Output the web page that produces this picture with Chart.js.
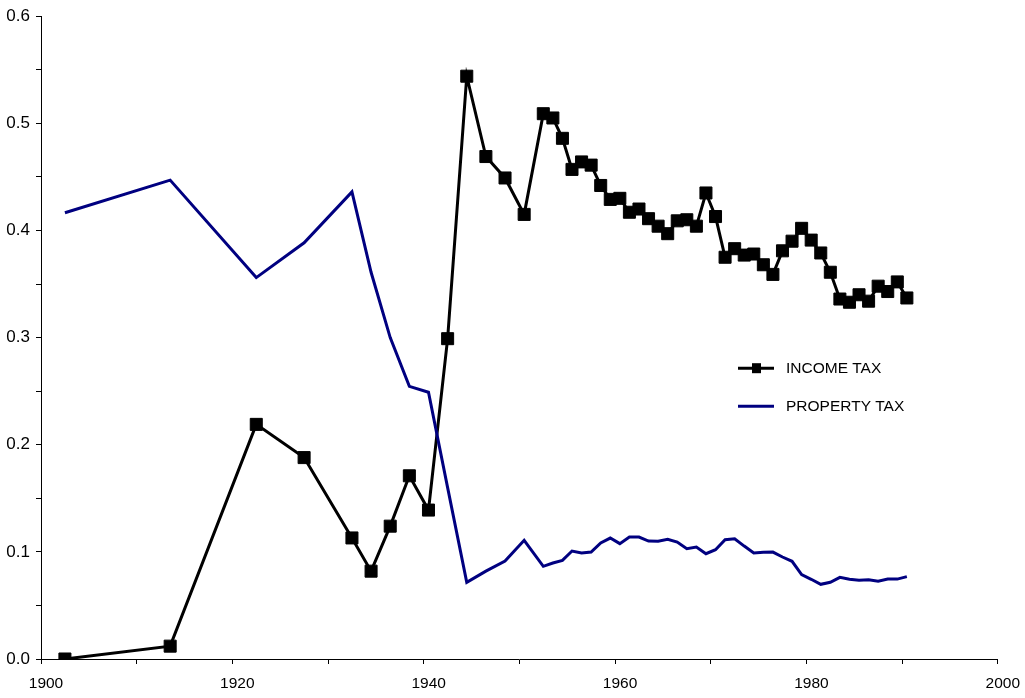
<!DOCTYPE html>
<html><head><meta charset="utf-8">
<script src="https://cdn.jsdelivr.net/npm/chart.js@4/dist/chart.umd.min.js"></script>
<style>html,body{margin:0;padding:0;background:#fff}#wrap{width:1025px;height:698px;position:relative}</style>
</head><body><div id="wrap"><canvas id="c" width="1025" height="698"></canvas></div>
<script>
const years = [1902.5, 1913.5, 1922.5, 1927.5, 1932.5, 1934.5, 1936.5, 1938.5, 1940.5, 1942.5, 1944.5, 1946.5, 1948.5, 1950.5,
  1952.5, 1953.5, 1954.5, 1955.5, 1956.5, 1957.5, 1958.5, 1959.5, 1960.5, 1961.5, 1962.5, 1963.5, 1964.5, 1965.5, 1966.5,
  1967.5, 1968.5, 1969.5, 1970.5, 1971.5, 1972.5, 1973.5, 1974.5, 1975.5, 1976.5, 1977.5, 1978.5, 1979.5, 1980.5, 1981.5,
  1982.5, 1983.5, 1984.5, 1985.5, 1986.5, 1987.5, 1988.5, 1989.5, 1990.5];
const incomeTax = [0.000, 0.012, 0.219, 0.188, 0.113, 0.082, 0.124, 0.171, 0.139, 0.299, 0.544, 0.469, 0.449, 0.415,
  0.509, 0.505, 0.486, 0.457, 0.464, 0.461, 0.442, 0.429, 0.430, 0.417, 0.420, 0.411, 0.404, 0.397, 0.409,
  0.410, 0.404, 0.435, 0.413, 0.375, 0.383, 0.377, 0.378, 0.368, 0.359, 0.381, 0.390, 0.402, 0.391, 0.379,
  0.361, 0.336, 0.333, 0.340, 0.334, 0.348, 0.343, 0.352, 0.337];
const propertyTax = [0.4165, 0.447, 0.356, 0.3885, 0.436, 0.361, 0.300, 0.2545, 0.249, 0.160, 0.0715, 0.082, 0.0915, 0.1108,
  0.0865, 0.0896, 0.092, 0.1008, 0.099, 0.0998, 0.1083, 0.1129, 0.1077, 0.1138, 0.1138, 0.1101, 0.110, 0.1117, 0.1092,
  0.103, 0.1045, 0.0983, 0.102, 0.1114, 0.1123, 0.1054, 0.099, 0.0996, 0.0998, 0.0952, 0.0912, 0.0788, 0.0744, 0.0697,
  0.0716, 0.0762, 0.0744, 0.0734, 0.074, 0.0725, 0.0746, 0.0746, 0.0769];
const seriesNames = ['INCOME TAX', 'PROPERTY TAX'];
const xTickLabels = ['1900', '1920', '1940', '1960', '1980', '2000'];
const yTickLabels = ['0.0', '0.1', '0.2', '0.3', '0.4', '0.5', '0.6'];

const FONT = '"Liberation Sans", Arial, sans-serif';
const toPts = (ys) => years.map((x, i) => ({x, y: ys[i]}));

const legendPlugin = {
  id: 'insideLegend',
  afterDraw(chart) {
    const ctx = chart.ctx, a = chart.chartArea;
    const x0 = a.left + 697, y0 = a.top + 352;
    ctx.save();
    ctx.font = '15.5px ' + FONT;
    ctx.fillStyle = '#000';
    ctx.textBaseline = 'middle';
    ctx.strokeStyle = '#000'; ctx.lineWidth = 3;
    ctx.beginPath(); ctx.moveTo(x0, y0); ctx.lineTo(x0 + 36, y0); ctx.stroke();
    ctx.fillRect(x0 + 14, y0 - 5, 9, 10);
    ctx.fillText(seriesNames[0], x0 + 48, y0 + 1);
    ctx.strokeStyle = '#000080';
    ctx.beginPath(); ctx.moveTo(x0, y0 + 38); ctx.lineTo(x0 + 36, y0 + 38); ctx.stroke();
    ctx.fillText(seriesNames[1], x0 + 48, y0 + 39);
    ctx.restore();
  }
};

new Chart(document.getElementById('c'), {
  type: 'scatter',
  data: {
    datasets: [
      { label: seriesNames[0], data: toPts(incomeTax), showLine: true, tension: 0,
        borderColor: '#000', borderWidth: 3, pointStyle: 'rect', pointRadius: 8.5,
        pointBackgroundColor: '#000', pointBorderColor: '#000', pointBorderWidth: 1, order: 1 },
      { label: seriesNames[1], data: toPts(propertyTax), showLine: true, tension: 0,
        borderColor: '#000080', borderWidth: 3, pointRadius: 0, order: 0 }
    ]
  },
  options: {
    responsive: false, animation: false,
    layout: { padding: { top: 16, right: 27, left: 0, bottom: 0 } },
    plugins: { legend: { display: false }, tooltip: { enabled: false } },
    scales: {
      x: {
        type: 'linear', min: 1900, max: 2000,
        border: { display: true, color: '#000', width: 1 },
        grid: { drawOnChartArea: false, drawTicks: true, tickLength: 5, color: '#000' },
        ticks: { stepSize: 10, autoSkip: false, maxRotation: 0, padding: 10, labelOffset: 5, color: '#000',
          font: { family: FONT, size: 15.5 },
          callback: (v) => { const i = xTickLabels.indexOf(String(Math.round(v))); return i >= 0 ? xTickLabels[i] : ''; } },
        afterFit: (s) => { s.height = 39; }
      },
      y: {
        type: 'linear', min: 0, max: 0.6,
        border: { display: true, color: '#000', width: 1 },
        grid: { drawOnChartArea: false, drawTicks: true, tickLength: 5, color: '#000' },
        ticks: { stepSize: 0.05, autoSkip: false, padding: 6, color: '#000',
          font: { family: FONT, size: 17 },
          callback: (v) => { const k = Math.round(v * 20); return k % 2 === 0 ? yTickLabels[k / 2] : ''; } },
        afterFit: (s) => { s.width = 41; }
      }
    }
  },
  plugins: [legendPlugin]
});
</script>
</body></html>
